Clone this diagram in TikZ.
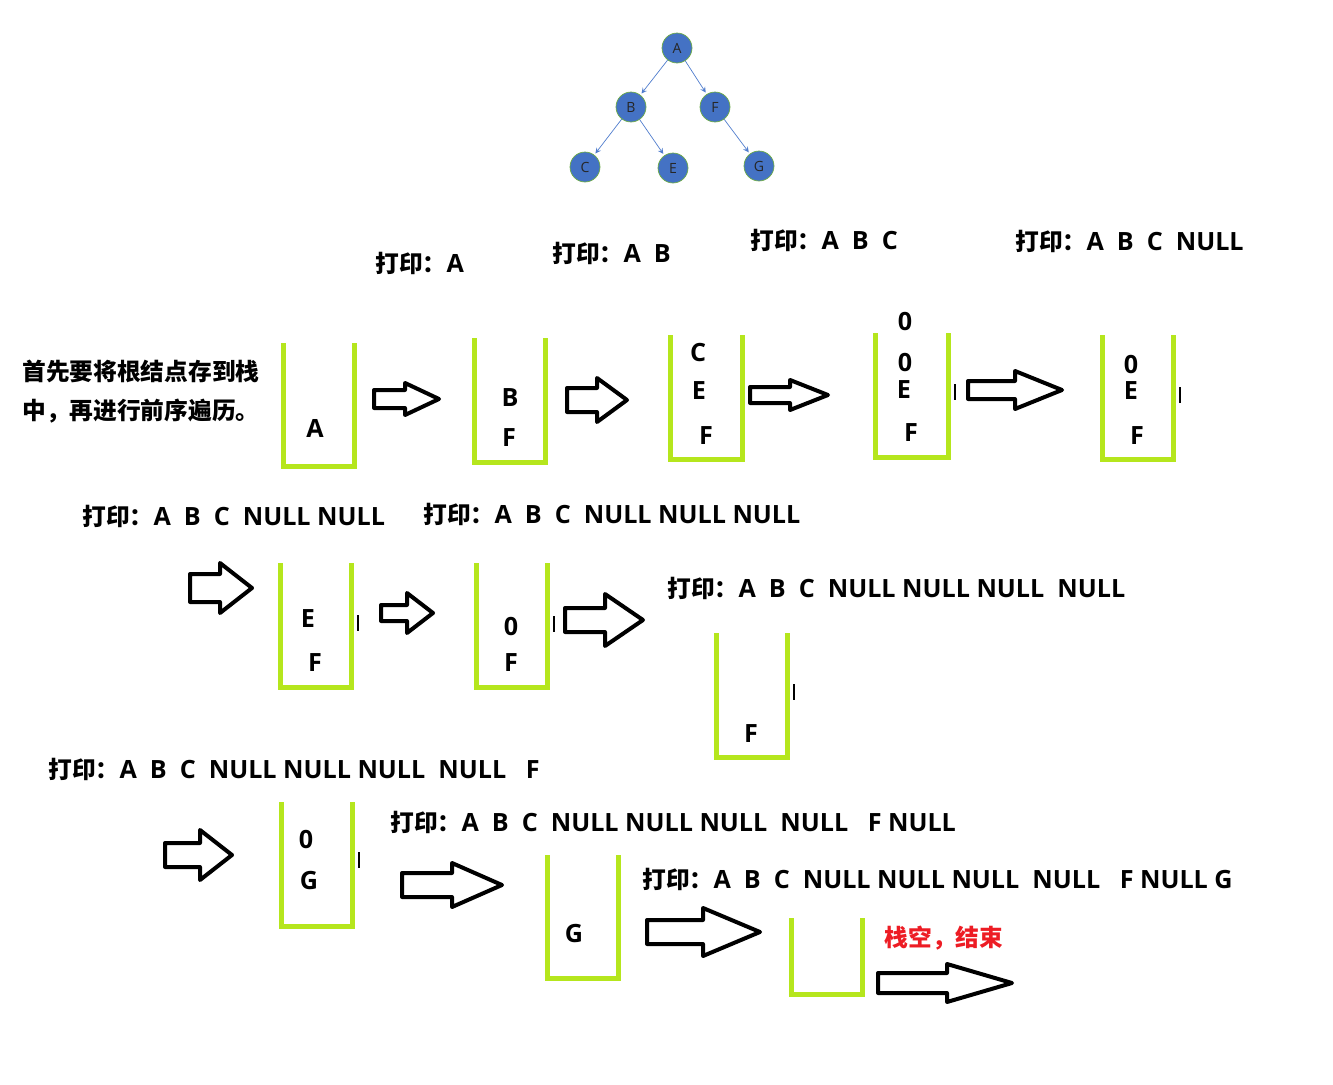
\documentclass[tikz,border=0pt]{standalone}
\usepackage{fontspec}
\setmainfont{Open Sans}
\newfontfamily\cjk{Noto Sans CJK SC}
\usetikzlibrary{arrows, positioning}
\definecolor{treeblue}{RGB}{68,114,196}
\definecolor{treering}{RGB}{112,173,71}
\definecolor{linkblue}{RGB}{80,125,205}
\definecolor{stackgreen}{RGB}{181,230,29}
\definecolor{endred}{RGB}{237,28,36}
\tikzstyle{treenode} = [circle, minimum size=0.6cm, inner sep=0pt, fill=treeblue, draw=treering, thin, text=black!85, font=\fontsize{8}{9}\selectfont]
\tikzstyle{link} = [draw=linkblue, thin, ->, >=stealth, shorten >=1pt]
\tikzstyle{stackline} = [draw=stackgreen, line width=0.1cm]
\tikzstyle{blockarrow} = [draw=black, line width=0.08cm, fill=white, line join=round]
\tikzstyle{printlabel} = [anchor=west, inner sep=0pt, font=\bfseries\fontsize{14.3}{17}\selectfont]
\tikzstyle{cjklabel} = [anchor=west, inner sep=0pt, font=\bfseries\cjk\fontsize{13.5}{16}\selectfont]
\tikzstyle{item} = [inner sep=0pt, font=\bfseries\fontsize{14.3}{17}\selectfont]
\tikzstyle{cursor} = [draw=black, line width=0.04cm]
\newcommand{\dayin}{{\cjk\fontsize{13.5}{16}\selectfont 打印：}}
% U shaped stack: left x, top y, right x, bottom y
\newcommand{\stackbox}[4]{\draw[stackline] (#1,#2) -- (#1,#4) -- (#3,#4) -- (#3,#2);}
% hollow arrow: tail x, head base x, tip x, centre y, shaft half, head half
\newcommand{\blockarrow}[6]{\draw[blockarrow] (#1,#4-#5) -- (#2,#4-#5) -- (#2,#4-#6) -- (#3,#4) -- (#2,#4+#6) -- (#2,#4+#5) -- (#1,#4+#5) -- cycle;}

\begin{document}
\begin{tikzpicture}[x=0.02cm, y=-0.02cm]
\useasboundingbox (0,0) rectangle (1333,1085);

% Tree
\node (tA) [treenode] at (677,48) {A};
\node (tB) [treenode] at (631,107) {B};
\node (tF) [treenode] at (715,107) {F};
\node (tC) [treenode] at (585,167) {C};
\node (tE) [treenode] at (673,168) {E};
\node (tG) [treenode] at (759,166) {G};
\draw [link] (tA) -- (tB);
\draw [link] (tA) -- (tF);
\draw [link] (tB) -- (tC);
\draw [link] (tB) -- (tE);
\draw [link] (tF) -- (tG);

% Intro
\node (intro1) [cjklabel] at (22,371) {首先要将根结点存到栈};
\node (intro2) [cjklabel] at (22,411) {中，再进行前序遍历。};

% Row 1
\node (p1) [printlabel] at (375,263) {\dayin A};
\node (p2) [printlabel] at (552,253) {\dayin A\ \ B};
\node (p3) [printlabel] at (750,240) {\dayin A\ \ B\ \ C};
\node (p4) [printlabel] at (1015,241) {\dayin A\ \ B\ \ C\ \ NULL};

\stackbox{283}{343}{354}{466}
\node (s1a) [item] at (315,428) {A};
\blockarrow{374}{405}{439}{399}{9}{16}

\stackbox{474}{338}{545}{462}
\node (s2b) [item] at (510,398) {B};
\node (s2f) [item] at (509,438) {F};
\blockarrow{567}{597}{627}{400}{12}{22}

\stackbox{670}{335}{742}{459}
\node (s3c) [item] at (698,353) {C};
\node (s3e) [item] at (699,391) {E};
\node (s3f) [item] at (706,436) {F};
\blockarrow{750}{790}{828}{395}{8}{15}

\stackbox{875}{333}{948}{457}
\node (s4z) [item] at (905,322) {0};
\node (s4y) [item] at (905,363) {0};
\node (s4e) [item] at (904,390) {E};
\node (s4f) [item] at (911,433) {F};
\draw [cursor] (955,384) -- (955,400);
\blockarrow{968}{1015}{1062}{390}{9}{19}

\stackbox{1102}{335}{1173}{459}
\node (s5z) [item] at (1131,365) {0};
\node (s5e) [item] at (1131,391) {E};
\node (s5f) [item] at (1137,436) {F};
\draw [cursor] (1180,387) -- (1180,403);

% Row 2
\node (p5) [printlabel] at (82,516) {\dayin A\ \ B\ \ C\ \ NULL NULL};
\node (p6) [printlabel] at (423,514) {\dayin A\ \ B\ \ C\ \ NULL NULL NULL};
\node (p7) [printlabel] at (667,588) {\dayin A\ \ B\ \ C\ \ NULL NULL NULL\ \ NULL};

\blockarrow{190}{220}{252}{588}{14}{25}
\stackbox{280}{563}{351}{687}
\node (s6e) [item] at (308,619) {E};
\node (s6f) [item] at (315,663) {F};
\draw [cursor] (358,615) -- (358,631);
\blockarrow{381}{407}{433}{613}{8}{20}

\stackbox{476}{563}{547}{687}
\node (s7z) [item] at (511,627) {0};
\node (s7f) [item] at (511,663) {F};
\draw [cursor] (554,616) -- (554,632);
\blockarrow{565}{605}{643}{620}{12}{26}

\stackbox{716}{633}{787}{757}
\node (s8f) [item] at (751,734) {F};
\draw [cursor] (794,684) -- (794,700);

% Row 3
\node (p8) [printlabel] at (48,769) {\dayin A\ \ B\ \ C\ \ NULL NULL NULL\ \ NULL\ \ \ F};
\node (p9) [printlabel] at (390,822) {\dayin A\ \ B\ \ C\ \ NULL NULL NULL\ \ NULL\ \ \ F NULL};
\node (p10) [printlabel] at (642,879) {\dayin A\ \ B\ \ C\ \ NULL NULL NULL\ \ NULL\ \ \ F NULL G};

\blockarrow{165}{200}{232}{855}{12}{25}
\stackbox{281}{802}{352}{926}
\node (s9z) [item] at (306,840) {0};
\node (s9g) [item] at (309,881) {G};
\draw [cursor] (359,852) -- (359,868);
\blockarrow{402}{452}{502}{885}{12}{22}

\stackbox{547}{855}{618}{978}
\node (s10g) [item] at (574,934) {G};
\blockarrow{647}{703}{760}{932}{12}{24}

\stackbox{791}{918}{862}{994}
\node (done) [cjklabel, anchor=center, text=endred] at (944,938) {栈空，结束};
\blockarrow{878}{947}{1012}{983}{10}{19}

\end{tikzpicture}
\end{document}
